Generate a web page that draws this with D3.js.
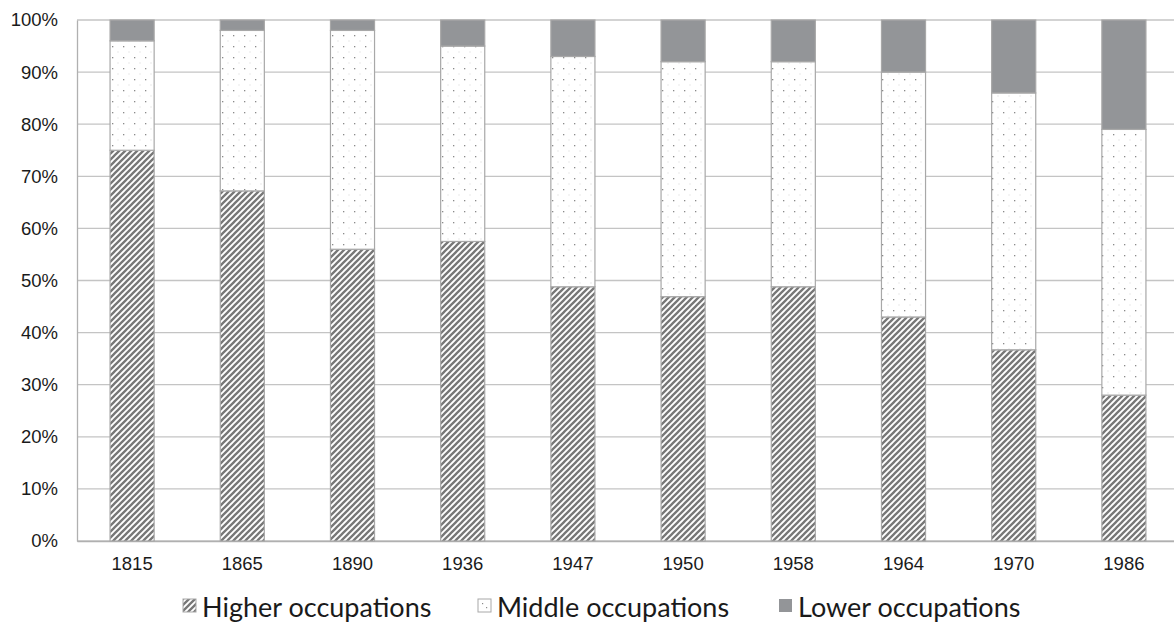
<!DOCTYPE html>
<html>
<head>
<meta charset="utf-8">
<script src="https://cdn.jsdelivr.net/npm/d3@7"></script>
<style>
  html, body { margin: 0; padding: 0; background: #fff; }
  svg { display: block; font-family: "Lato", "Open Sans", sans-serif; }
</style>
</head>
<body>
<svg id="chart" width="1174" height="622"></svg>
<script>
// Survey years along the x axis
const years = ["1815", "1865", "1890", "1936", "1947", "1950", "1958", "1964", "1970", "1986"];
// Share of each occupational group (percent of total)
const higher = [75, 67.2, 56, 57.5, 48.8, 46.9, 48.8, 43, 36.7, 28];
const middle = [21, 30.8, 42, 37.5, 44.2, 45.1, 43.2, 47, 49.3, 51];
const lower  = [4, 2, 2, 5, 7, 8, 8, 10, 14, 21];
const seriesNames = ["Higher occupations", "Middle occupations", "Lower occupations"];
const yTicks = [0, 10, 20, 30, 40, 50, 60, 70, 80, 90, 100];

const svg = d3.select("#chart");
const margin = { left: 77, top: 20, right: -5, bottom: 81 };
const W = 1174, H = 622;

const x = d3.scaleBand().domain(years)
  .range([margin.left, W - margin.right]).paddingInner(0.6).paddingOuter(0.3);
const y = d3.scaleLinear().domain([0, 100]).range([H - margin.bottom, margin.top]);

// Fill patterns
const defs = svg.append("defs");
const hatch = defs.append("pattern").attr("id", "hatch")
  .attr("patternUnits", "userSpaceOnUse").attr("width", 6).attr("height", 6);
hatch.append("rect").attr("width", 6).attr("height", 6).attr("fill", "#fff");
hatch.append("path").attr("d", "M-1,7 L7,-1 M-4,4 L4,-4 M2,10 L10,2")
  .attr("stroke", "#777").attr("stroke-width", 2.3);

const dots = defs.append("pattern").attr("id", "dots")
  .attr("patternUnits", "userSpaceOnUse").attr("width", 11).attr("height", 11);
dots.append("rect").attr("width", 11).attr("height", 11).attr("fill", "#fff");
dots.append("rect").attr("x", 2).attr("y", 2).attr("width", 1.3).attr("height", 1.3).attr("fill", "#8a8a8a");
dots.append("rect").attr("x", 7.5).attr("y", 7.5).attr("width", 1).attr("height", 1).attr("fill", "#d6d6d6");

const fills = ["url(#hatch)", "url(#dots)", "#939598"];

// Gridlines
svg.append("g").selectAll("line").data(yTicks).join("line")
  .attr("x1", margin.left).attr("x2", W)
  .attr("y1", d => y(d)).attr("y2", d => y(d))
  .attr("stroke", "#c4c4c4").attr("stroke-width", 1.3);

// Axes
const yAxis = svg.append("g").attr("transform", `translate(${margin.left},0)`)
  .call(d3.axisLeft(y).tickValues(yTicks).tickFormat(d => d + "%").tickSize(0).tickPadding(19));
yAxis.select(".domain").attr("stroke", "#b0b0b0").attr("stroke-width", 1.3);
yAxis.selectAll("text").attr("font-size", 18.5).attr("fill", "#1a1a1a");

const xAxis = svg.append("g").attr("transform", `translate(0,${y(0)})`)
  .call(d3.axisBottom(x).tickSize(0).tickPadding(16));
xAxis.select(".domain").attr("stroke", "#b0b0b0").attr("stroke-width", 1.3);
xAxis.selectAll("text").attr("font-size", 18.5).attr("fill", "#1a1a1a");

// Stacked bars
const rows = years.map((yr, i) => ({ year: yr, h: higher[i], m: middle[i], l: lower[i] }));
const stack = d3.stack().keys(["h", "m", "l"])(rows);

svg.append("g").selectAll("g").data(stack).join("g")
  .attr("fill", (d, i) => fills[i])
  .selectAll("rect").data(d => d).join("rect")
  .attr("x", d => x(d.data.year))
  .attr("width", x.bandwidth())
  .attr("y", d => y(d[1]))
  .attr("height", d => y(d[0]) - y(d[1]))
  .attr("stroke", "#a8a8a8").attr("stroke-width", 1.2);

// Legend
const legendX = [183, 478, 779];
const lg = svg.append("g");
seriesNames.forEach((name, i) => {
  const g = lg.append("g").attr("transform", `translate(${legendX[i]},599)`);
  g.append("rect").attr("width", 13).attr("height", 13)
    .attr("fill", i === 0 ? "url(#hatch)" : i === 1 ? "#fff" : fills[2])
    .attr("stroke", i === 2 ? "none" : "#a8a8a8").attr("stroke-width", 1);
  if (i === 1) {
    g.append("rect").attr("x", 4).attr("y", 4).attr("width", 1.2).attr("height", 1.2).attr("fill", "#8a8a8a");
    g.append("rect").attr("x", 8).attr("y", 8).attr("width", 1.2).attr("height", 1.2).attr("fill", "#8a8a8a");
  }
  g.append("text").attr("x", 19).attr("y", 18)
    .attr("font-size", 27).attr("fill", "#1a1a1a").text(name);
});
</script>
</body>
</html>
